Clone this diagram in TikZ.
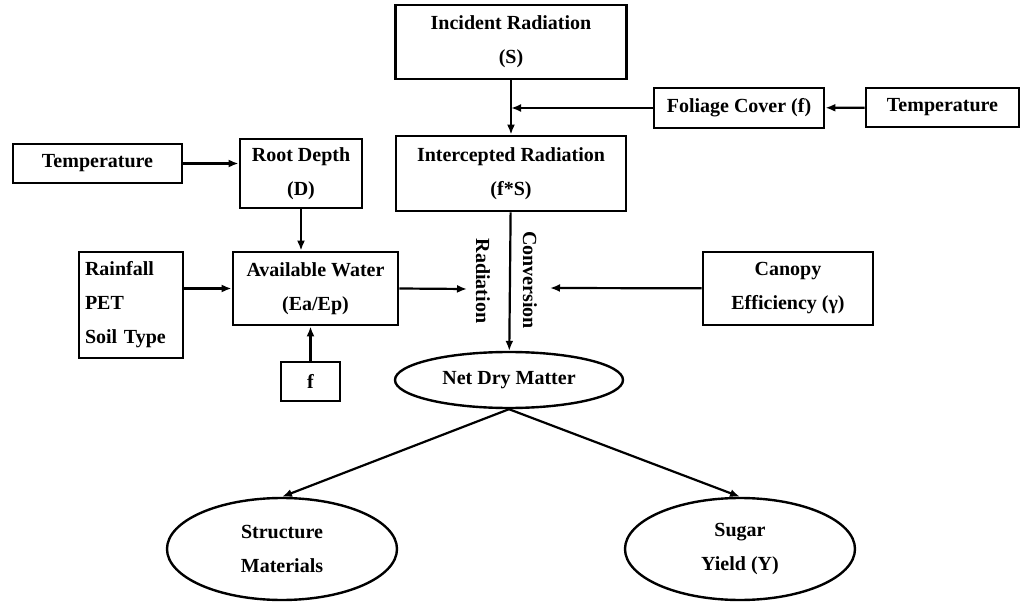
\documentclass[tikz,border=0pt]{standalone}
\usepackage{fontspec}
\setmainfont{Liberation Serif}
\usetikzlibrary{positioning, shapes.geometric, arrows.meta}

\begin{document}
\begin{tikzpicture}[x=0.5pt, y=-0.5pt,
  box/.style={draw, line width=1.4pt, align=center, inner sep=2pt, font=\bfseries\fontsize{10}{17}\selectfont},
  oval/.style={ellipse, draw, line width=1.2pt, align=center, inner sep=0pt, font=\bfseries\fontsize{10}{17}\selectfont},
  lbl/.style={rotate=-90, inner sep=1pt, font=\bfseries\fontsize{10}{17}\selectfont},
  arr/.style={-{Latex[length=5pt, width=4pt]}, line width=1.1pt}
]
\useasboundingbox (0,0) rectangle (1025,605);

\node[box, minimum width=115.5pt, minimum height=37pt] (inc) at (511,42) {Incident Radiation\\(S)};
\node[box, minimum width=115pt, minimum height=37.5pt] (icp) at (511,173.5) {Intercepted Radiation\\(f*S)};
\node[box, minimum width=85pt, minimum height=20pt] (fol) at (739,108) {Foliage Cover (f)};
\node[box, minimum width=76.5pt, minimum height=19.5pt] (tmpr) at (942.5,107.5) {Temperature};

\node[box, minimum width=84.5pt, minimum height=19.5pt] (tmpl) at (97.5,163.5) {Temperature};
\node[box, minimum width=61pt, minimum height=34.5pt] (root) at (301,173.5) {Root Depth\\(D)};
\node[box, minimum width=82.5pt, minimum height=36.5pt] (aw) at (315.5,288.5) {Available Water\\(Ea/Ep)};
\node[box, minimum width=52pt, minimum height=53pt, text width=46pt, align=left] (rain) at (131,305) {Rainfall\\PET\\Soil Type};
\node[box, minimum width=29.5pt, minimum height=19.5pt] (fbox) at (310.5,381.5) {f};
\node[box, minimum width=85pt, minimum height=36.5pt] (can) at (788,288.5) {Canopy\\Efficiency (γ)};

\node[oval, minimum width=114pt, minimum height=28pt] (ndm) at (509,380) {Net Dry Matter};
\node[oval, minimum width=115pt, minimum height=51pt] (str) at (282,549) {Structure\\Materials};
\node[oval, minimum width=115pt, minimum height=51pt] (sug) at (740,549) {Sugar\\Yield (Y)};

\node[lbl] (rad) at (483,281) {Radiation};
\node[lbl] (conv) at (530,280) {Conversion};

\coordinate (join) at (511,108);
\coordinate (radin) at (467,289);
\coordinate (canin) at (550,288);

\draw[arr] (inc) -- (icp);
\draw[arr] (fol) -- (join);
\draw[arr] (tmpr) -- (fol);

\draw[arr] (tmpl.east) -- (tmpl.east -| root.west);
\draw[arr] (root.south) -- (root.south |- aw.north);
\draw[arr] (aw.west -| rain.east) -- (aw.west);
\draw[arr] (fbox.north) -- (fbox.north |- aw.south);
\draw[arr] (aw.east) -- (radin);

\draw[arr] (icp) -- (ndm);
\draw[arr] (can) -- (canin);

\draw[arr] (ndm.south) -- (str.north);
\draw[arr] (ndm.south) -- (sug.north);
\end{tikzpicture}
\end{document}
